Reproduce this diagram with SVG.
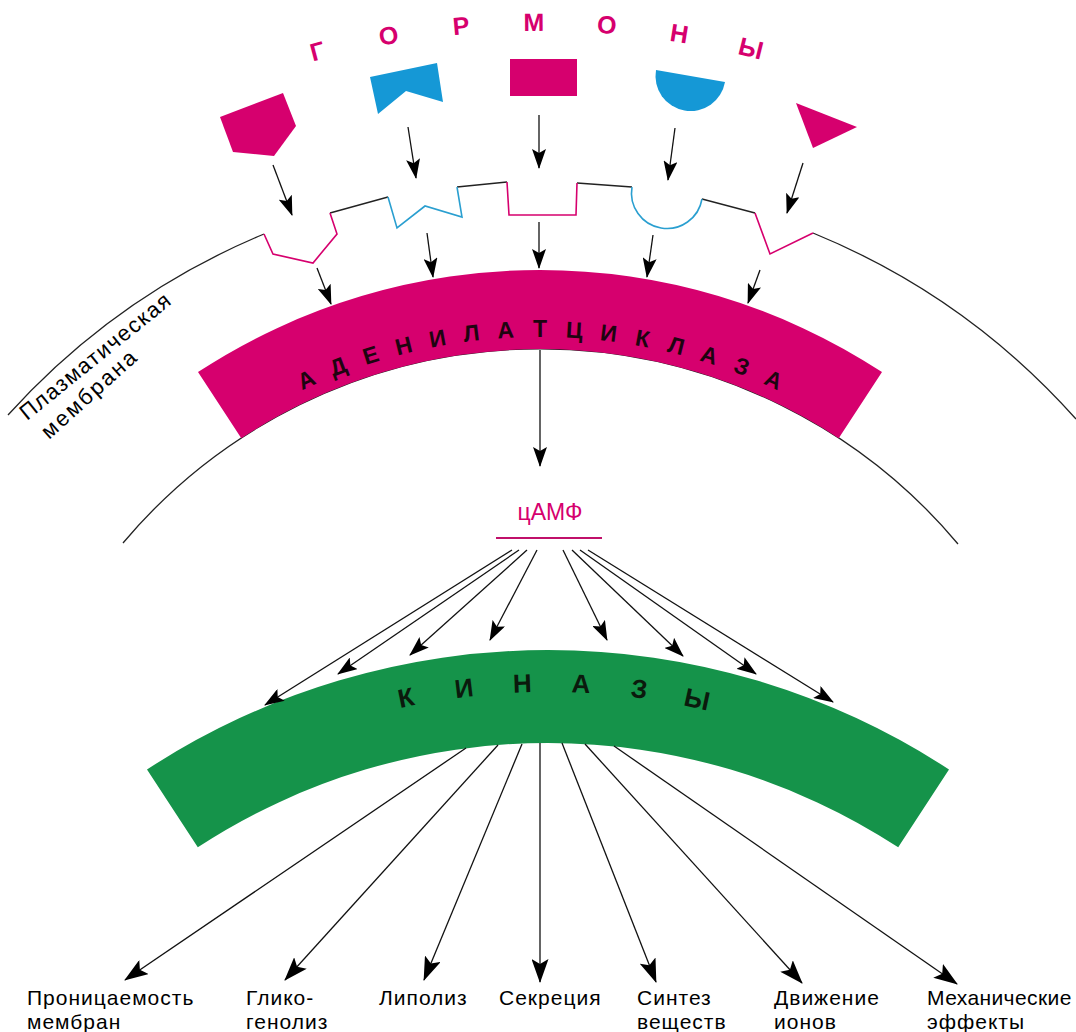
<svg xmlns="http://www.w3.org/2000/svg" width="1076" height="1032" viewBox="0 0 1076 1032">
<style>
.mem{fill:none;stroke:#222;stroke-width:1.3}
.rp{fill:none;stroke:#d6006e;stroke-width:1.6;stroke-linejoin:miter}
.rc{fill:none;stroke:#2a9fd0;stroke-width:1.6}
.pink{fill:#d6006e}
.cyan{fill:#1598d6}
.green{fill:#15934a}
.arr{fill:none;stroke:#111;stroke-width:1.3;marker-end:url(#ah)}
.arrL{fill:none;stroke:#111;stroke-width:1.3;marker-end:url(#ahL)}
.hl{font-family:"Liberation Sans",Arial,sans-serif;font-size:25px;font-weight:bold;fill:#d6006e;text-anchor:middle}
.al{font-family:"Liberation Sans",Arial,sans-serif;font-size:23px;font-weight:bold;fill:#1e0410;text-anchor:middle}
.kl{font-family:"Liberation Sans",Arial,sans-serif;font-size:26px;font-weight:bold;fill:#0b1a0d;text-anchor:middle}
.lab{font-family:"Liberation Sans",Arial,sans-serif;font-size:21px;fill:#000;letter-spacing:1px}
.ml{font-family:"Liberation Sans",Arial,sans-serif;font-size:22px;fill:#000}
</style>
<defs>
<marker id="ah" viewBox="0 0 20 14" refX="19" refY="7" markerWidth="20" markerHeight="14" markerUnits="userSpaceOnUse" orient="auto"><path d="M0,0 L20,7 L0,14 L4,7 Z" fill="#000"/></marker>
<marker id="ahL" viewBox="0 0 24 17" refX="23" refY="8.5" markerWidth="24" markerHeight="17" markerUnits="userSpaceOnUse" orient="auto"><path d="M0,0 L24,8.5 L0,17 L5,8.5 Z" fill="#000"/></marker>
</defs>

<g id="membrane">
<path class="mem" d="M8,415 A716,716 0 0 1 264,234 M330,213 L388,197 M457,187 L507,182 M577,183 L632,187 M702,199 L755,213 M813,233 A716,716 0 0 1 1076,419"/>
<path class="mem" d="M123,543 A545,545 0 0 1 958,544"/>
<polyline class="rp" points="264,234 273,254 313,263 337,234 330,213"/>
<polyline class="rc" points="388,197 397,228 425,206 462,217 457,187"/>
<polyline class="rp" points="507,182 509,215 576,215 577,183"/>
<path class="rc" d="M632,187 A35.5,35.5 0 0 0 702,199"/>
<polyline class="rp" points="755,213 770,254 813,233"/>
<text class="ml" x="27" y="421" transform="rotate(-39 27 421)" textLength="187" lengthAdjust="spacing">Плазматическая</text>
<text class="ml" x="49" y="440" transform="rotate(-42 49 440)" textLength="120" lengthAdjust="spacing">мембрана</text>
</g>

<g id="hormones-title">
<text class="hl" x="540" y="31" transform="rotate(-14.8 540 894)">Г</text>
<text class="hl" x="540" y="31" transform="rotate(-10 540 894)">О</text>
<text class="hl" x="540" y="31" transform="rotate(-5.2 540 894)">Р</text>
<text class="hl" x="540" y="31" transform="rotate(-0.4 540 894)">М</text>
<text class="hl" x="540" y="31" transform="rotate(4.4 540 894)">О</text>
<text class="hl" x="540" y="31" transform="rotate(9.2 540 894)">Н</text>
<text class="hl" x="540" y="31" transform="rotate(14 540 894)">Ы</text>
</g>

<g id="hormone1"><polygon class="pink" points="220,117 283,93 296,126 274,156 233,152"/></g>
<g id="hormone2"><polygon class="cyan" points="370,77 437,63 443,102 406,91 378,114"/></g>
<g id="hormone3"><rect class="pink" x="510" y="59" width="67" height="37"/></g>
<g id="hormone4"><path class="cyan" d="M656,70 L725,82 A35,35 0 0 1 656,70 Z"/></g>
<g id="hormone5"><polygon class="pink" points="796,103 857,127 813,148"/></g>

<g id="adenylate-cyclase">
<path class="pink" d="M198,372.1 A624,624 0 0 1 882,372.1 L838.7,438.2 A545,545 0 0 0 241.3,438.2 Z"/>
<text class="al" x="540" y="337" transform="rotate(-24.43 540 894)">А</text>
<text class="al" x="540" y="337" transform="rotate(-20.94 540 894)">Д</text>
<text class="al" x="540" y="337" transform="rotate(-17.45 540 894)">Е</text>
<text class="al" x="540" y="337" transform="rotate(-13.96 540 894)">Н</text>
<text class="al" x="540" y="337" transform="rotate(-10.47 540 894)">И</text>
<text class="al" x="540" y="337" transform="rotate(-6.98 540 894)">Л</text>
<text class="al" x="540" y="337" transform="rotate(-3.49 540 894)">А</text>
<text class="al" x="540" y="337">Т</text>
<text class="al" x="540" y="337" transform="rotate(3.49 540 894)">Ц</text>
<text class="al" x="540" y="337" transform="rotate(6.98 540 894)">И</text>
<text class="al" x="540" y="337" transform="rotate(10.47 540 894)">К</text>
<text class="al" x="540" y="337" transform="rotate(13.96 540 894)">Л</text>
<text class="al" x="540" y="337" transform="rotate(17.45 540 894)">А</text>
<text class="al" x="540" y="337" transform="rotate(20.94 540 894)">З</text>
<text class="al" x="540" y="337" transform="rotate(24.43 540 894)">А</text>
</g>

<g id="camp">
<text x="550" y="520" font-family="'Liberation Sans',Arial,sans-serif" font-size="23" fill="#d6006e" text-anchor="middle">цАМФ</text>
<line x1="496" y1="538" x2="602" y2="538" stroke="#c0106a" stroke-width="2"/>
</g>

<g id="kinases">
<path class="green" d="M147,769.5 A733,733 0 0 1 949,769.5 L898.2,847.3 A640,640 0 0 0 197.8,847.3 Z"/>
<text class="kl" x="548" y="692" transform="rotate(-11.7 548 1383)">К</text>
<text class="kl" x="548" y="692" transform="rotate(-6.9 548 1383)">И</text>
<text class="kl" x="548" y="692" transform="rotate(-2.1 548 1383)">Н</text>
<text class="kl" x="548" y="692" transform="rotate(2.7 548 1383)">А</text>
<text class="kl" x="548" y="692" transform="rotate(7.5 548 1383)">З</text>
<text class="kl" x="548" y="692" transform="rotate(12.3 548 1383)">Ы</text>
</g>

<g id="connectors">
<path class="arr" d="M273,165 L292,215"/>
<path class="arr" d="M408,127 L416,178"/>
<path class="arr" d="M539,115 L539,168"/>
<path class="arr" d="M675,128 L668,180"/>
<path class="arr" d="M803,163 L787,213"/>
<path class="arr" d="M317,268 L331,304"/>
<path class="arr" d="M427,233 L433,277"/>
<path class="arr" d="M539,222 L539,268"/>
<path class="arr" d="M653,235 L647,277"/>
<path class="arr" d="M760,270 L748,303"/>
<path class="arr" d="M540,350 L540,466"/>
<path class="arr" d="M512,550 L265,705"/>
<path class="arr" d="M519,550 L338,674"/>
<path class="arr" d="M527,550 L410,655"/>
<path class="arr" d="M537,550 L490,640"/>
<path class="arr" d="M563,550 L607,640"/>
<path class="arr" d="M572,550 L683,656"/>
<path class="arr" d="M580,550 L756,674"/>
<path class="arr" d="M588,550 L833,702"/>
<path class="arrL" d="M466,748 L125,980"/>
<path class="arrL" d="M498,745 L285,980"/>
<path class="arrL" d="M522,744 L424,980"/>
<path class="arrL" d="M540,743 L540,982"/>
<path class="arrL" d="M562,743 L656,982"/>
<path class="arrL" d="M585,744 L802,983"/>
<path class="arrL" d="M614,746 L957,984"/>
</g>

<g id="effects">
<text class="lab" x="27" y="1005">Проницаемость</text>
<text class="lab" x="27" y="1029">мембран</text>
<text class="lab" x="246" y="1005">Глико-</text>
<text class="lab" x="246" y="1029">генолиз</text>
<text class="lab" x="379" y="1005">Липолиз</text>
<text class="lab" x="499" y="1005">Секреция</text>
<text class="lab" x="637" y="1005">Синтез</text>
<text class="lab" x="637" y="1029">веществ</text>
<text class="lab" x="774" y="1005">Движение</text>
<text class="lab" x="774" y="1029">ионов</text>
<text class="lab" x="927" y="1005" style="letter-spacing:0.4px">Механические</text>
<text class="lab" x="927" y="1029">эффекты</text>
</g>
</svg>
